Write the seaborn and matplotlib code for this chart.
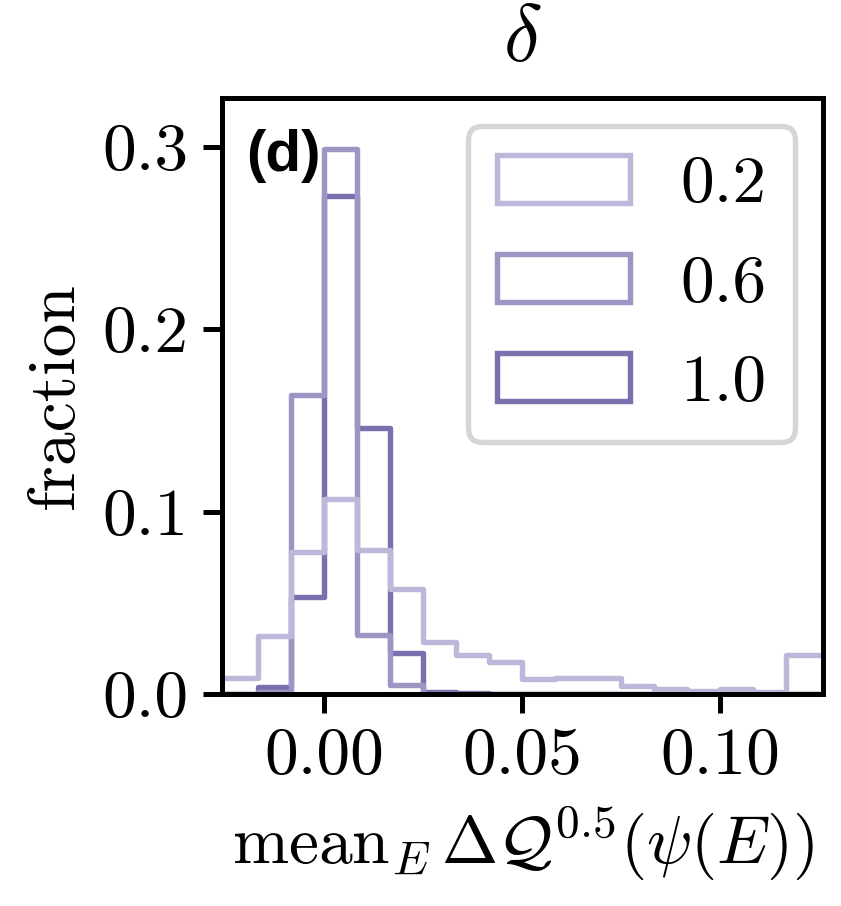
import numpy as np
import pandas as pd
import matplotlib
matplotlib.use("Agg")
import matplotlib.pyplot as plt
from matplotlib.patches import Patch
import seaborn as sns

# histogram heights (fraction) per bin
deltas = ["0.2", "0.6", "1.0"]
frac_02 = [0.0085, 0.032, 0.078, 0.107, 0.079, 0.0575, 0.0287, 0.0214, 0.0177,
           0.008, 0.009, 0.009, 0.0046, 0.0027, 0.0018, 0.0027, 0.0013, 0.0214]
frac_06 = [0.0, 0.001, 0.1636, 0.2986, 0.0323, 0.0052, 0.0, 0.0, 0.0,
           0.0, 0.0, 0.0, 0.0, 0.0, 0.0, 0.0, 0.0, 0.0]
frac_10 = [0.0, 0.0036, 0.053, 0.273, 0.146, 0.0225, 0.001, 0.0005, 0.0,
           0.0, 0.0, 0.0, 0.0, 0.0, 0.0, 0.0, 0.0, 0.0]
x_range = (-0.025, 0.125)
n_bins = 18
colors = {"0.2": "#bdb7da", "0.6": "#9d95c4", "1.0": "#7b70ad"}

edges = np.linspace(x_range[0], x_range[1], n_bins + 1)
centers = (edges[:-1] + edges[1:]) / 2

df = pd.concat([
    pd.DataFrame({"value": centers, "fraction": f, "delta": d})
    for d, f in zip(deltas, [frac_02, frac_06, frac_10])
])

sns.set_style("ticks")
plt.rcParams["font.family"] = ["cmr10", "DejaVu Sans"]
plt.rcParams["mathtext.fontset"] = "cm"
plt.rcParams["axes.formatter.use_mathtext"] = True
plt.rcParams["font.size"] = 16.2
for k in ["text.color", "axes.labelcolor", "axes.edgecolor",
          "xtick.color", "ytick.color"]:
    plt.rcParams[k] = "black"
plt.rcParams["axes.linewidth"] = 1.2
plt.rcParams["xtick.major.width"] = 1.2
plt.rcParams["ytick.major.width"] = 1.2
plt.rcParams["xtick.major.size"] = 4.5
plt.rcParams["ytick.major.size"] = 4.5

fig = plt.figure(figsize=(841 / 300, 906 / 300), dpi=300)
ax = fig.add_axes([0.264, 0.234, 0.9786 - 0.264, 0.8918 - 0.234])

sns.histplot(data=df, x="value", weights="fraction", hue="delta",
             hue_order=deltas, bins=n_bins, binrange=x_range,
             element="step", fill=False, palette=colors, linewidth=1.3,
             legend=False, ax=ax)

ax.set_xlim(-0.0257, 0.126)
ax.set_ylim(0, 0.3266)
ax.set_xticks([0.0, 0.05, 0.10])
ax.set_xticklabels(["0.00", "0.05", "0.10"])
ax.set_yticks([0.0, 0.1, 0.2, 0.3])
ax.set_yticklabels(["0.0", "0.1", "0.2", "0.3"])

ax.set_xlabel(r"$\mathrm{mean}_E\,\Delta\mathcal{Q}^{0.5}(\psi(E))$")
ax.set_ylabel("fraction")
ax.set_title(r"$\delta$", pad=9)

ax.text(0.04, 0.948, "(d)", transform=ax.transAxes, ha="left", va="top",
        fontsize=14, fontweight="bold", family=["Liberation Sans", "DejaVu Sans"])

handles = [Patch(facecolor="none", edgecolor=colors[d], linewidth=1.3) for d in deltas]
leg = ax.legend(handles, deltas, loc="upper right", frameon=True, fancybox=True,
                handlelength=1.97, handleheight=0.72, handletextpad=0.75,
                labelspacing=0.57, borderaxespad=0.42, borderpad=0.42)
leg.get_frame().set_edgecolor("#d6d6d6")
leg.get_frame().set_linewidth(1.3)
leg.get_frame().set_alpha(1.0)

fig.savefig("out.png", dpi=300)
